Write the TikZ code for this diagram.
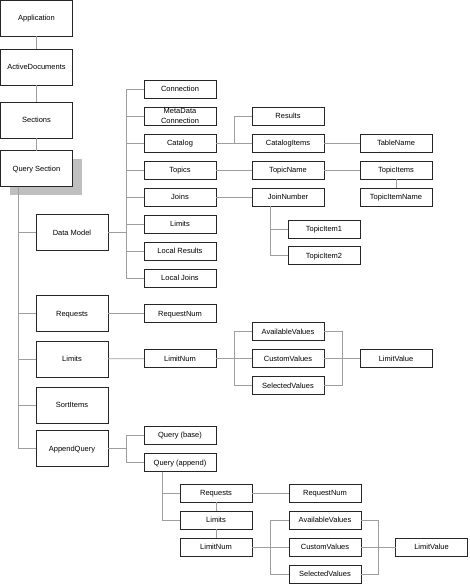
\documentclass[tikz,border=0pt]{standalone}
\usepackage{fontspec}
\setmainfont{Liberation Sans}
\usepackage{tikz}
\usetikzlibrary{calc}

\begin{document}
\begin{tikzpicture}[x=1pt,y=-1pt]
  \tikzset{BigBoxStyle/.style = {
    shape         = rectangle,
    draw          = black!85,
    fill          = white,
    line width    = 0.8pt,
    text          = black,
    font          = \fontsize{7.5}{10}\selectfont,
    text height   = 5.4pt,
    text depth    = 0pt,
    inner sep     = 0pt,
    outer sep     = 0pt,
    minimum width = 72pt,
    minimum height= 36pt
    }
  }
  \tikzset{BoxStyle/.style = {
    BigBoxStyle,
    minimum height= 18pt,
    align         = center
    }
  }
  \tikzset{EdgeStyle/.style = {
    draw          = black!38,
    line width    = 0.7pt
    }
  }
  \useasboundingbox (0,0) rectangle (469,584);

  % left column
  \node[BigBoxStyle](App) at (36.5, 18) {Application};
  \node[BigBoxStyle](ActDocs) at (36.5, 67) {ActiveDocuments};
  \node[BigBoxStyle](Sections) at (36.5, 120) {Sections};
  \fill[black!25] (9.5, 159) rectangle (81.5, 195);
  \node[BigBoxStyle](QuerySec) at (36.5, 168.5) {Query Section};
  \node[BigBoxStyle](DataModel) at (72, 232.5) {Data Model};
  \node[BigBoxStyle](Requests) at (72, 313.5) {Requests};
  \node[BigBoxStyle](Limits) at (72, 359) {Limits};
  \node[BigBoxStyle](SortItems) at (72, 405) {SortItems};
  \node[BigBoxStyle](AppQuery) at (72, 448.5) {AppendQuery};

  % data model
  \node[BoxStyle](Conn) at (180, 89) {Connection};
  \node[BoxStyle, text height=16.7pt, text depth=1.3pt](MetaConn) at (180, 116) {MetaData\\Connection};
  \node[BoxStyle](Catalog) at (180, 143) {Catalog};
  \node[BoxStyle](Topics) at (180, 170) {Topics};
  \node[BoxStyle](Joins) at (180, 197) {Joins};
  \node[BoxStyle](DMLimits) at (180, 224) {Limits};
  \node[BoxStyle](LocResults) at (180, 251) {Local Results};
  \node[BoxStyle](LocJoins) at (180, 278) {Local Joins};
  \node[BoxStyle](Results) at (288, 116) {Results};
  \node[BoxStyle](CatItems) at (288, 143) {CatalogItems};
  \node[BoxStyle](TopicName) at (288, 170) {TopicName};
  \node[BoxStyle](JoinNum) at (288, 197) {JoinNumber};
  \node[BoxStyle](TableName) at (396, 143) {TableName};
  \node[BoxStyle](TopicItems) at (396, 170) {TopicItems};
  \node[BoxStyle](TopicItemName) at (396, 197) {TopicItemName};
  \node[BoxStyle](TopicItemA) at (324, 229) {TopicItem1};
  \node[BoxStyle](TopicItemB) at (324, 255.5) {TopicItem2};

  % requests and limits
  \node[BoxStyle](ReqNum) at (180, 313.5) {RequestNum};
  \node[BoxStyle](LimNum) at (180, 358.5) {LimitNum};
  \node[BoxStyle](AvailVal) at (288, 331.5) {AvailableValues};
  \node[BoxStyle](CustVal) at (288, 358.5) {CustomValues};
  \node[BoxStyle](SelVal) at (288, 385.5) {SelectedValues};
  \node[BoxStyle](LimVal) at (396, 358.5) {LimitValue};

  % append query
  \node[BoxStyle](QBase) at (180, 435) {Query (base)};
  \node[BoxStyle](QAppend) at (180, 462.5) {Query (append)};
  \node[BoxStyle](ReqsB) at (216, 493) {Requests};
  \node[BoxStyle](LimitsB) at (216, 520) {Limits};
  \node[BoxStyle](LimNumB) at (216, 547) {LimitNum};
  \node[BoxStyle](ReqNumB) at (325, 493) {RequestNum};
  \node[BoxStyle](AvailValB) at (325, 520) {AvailableValues};
  \node[BoxStyle](CustValB) at (325, 547) {CustomValues};
  \node[BoxStyle](SelValB) at (325, 574) {SelectedValues};
  \node[BoxStyle](LimValB) at (431.5, 547) {LimitValue};

  % joints
  \coordinate (QSfoot) at ($(QuerySec.south west)+(18,0)$);
  \coordinate (DMjoint) at ($(DataModel.east)+(18,0)$);
  \coordinate (CatJoint) at ($(Catalog.east)!.5!(CatItems.west)$);
  \coordinate (JNfoot) at ($(JoinNum.south west)+(18,0)$);
  \coordinate (LimJoint) at ($(LimNum.east)!.5!(CustVal.west)$);
  \coordinate (ValJoint) at ($(CustVal.east)!.5!(LimVal.west)$);
  \coordinate (AQjoint) at ($(AppQuery.east)+(18,0)$);
  \coordinate (QAfoot) at ($(QAppend.south west)+(18,0)$);
  \coordinate (LimJointB) at ($(LimNumB.east)!.5!(CustValB.west)$);
  \coordinate (ValJointB) at ($(CustValB.east)!.5!(LimValB.west)$);

  % connectors
  \draw[EdgeStyle](App) -- (ActDocs);
  \draw[EdgeStyle](ActDocs) -- (Sections);
  \draw[EdgeStyle](Sections) -- (QuerySec);
  \foreach \n in {DataModel,Requests,Limits,SortItems,AppQuery}
    \draw[EdgeStyle](QSfoot) |- (\n.west);
  \draw[EdgeStyle](DataModel.east) -- (DMjoint);
  \foreach \n in {Conn,MetaConn,Catalog,Topics,Joins,DMLimits,LocResults,LocJoins}
    \draw[EdgeStyle](DMjoint) |- (\n.west);
  \draw[EdgeStyle](Catalog) -- (CatItems);
  \draw[EdgeStyle](CatJoint) |- (Results.west);
  \draw[EdgeStyle](CatItems) -- (TableName);
  \draw[EdgeStyle](Topics) -- (TopicName);
  \draw[EdgeStyle](TopicName) -- (TopicItems);
  \draw[EdgeStyle](TopicItems) -- (TopicItemName);
  \draw[EdgeStyle](Joins) -- (JoinNum);
  \draw[EdgeStyle](JNfoot) |- (TopicItemA.west);
  \draw[EdgeStyle](JNfoot) |- (TopicItemB.west);
  \draw[EdgeStyle](Requests) -- (ReqNum);
  \draw[EdgeStyle](Limits) -- (LimNum);
  \draw[EdgeStyle](LimNum) -- (LimJoint);
  \draw[EdgeStyle](ValJoint) -- (LimVal);
  \foreach \n in {AvailVal,CustVal,SelVal}{
    \draw[EdgeStyle](LimJoint) |- (\n.west);
    \draw[EdgeStyle](ValJoint) |- (\n.east);
  }
  \draw[EdgeStyle](AppQuery.east) -- (AQjoint);
  \draw[EdgeStyle](AQjoint) |- (QBase.west);
  \draw[EdgeStyle](AQjoint) |- (QAppend.west);
  \draw[EdgeStyle](QAfoot) |- (ReqsB.west);
  \draw[EdgeStyle](QAfoot) |- (LimitsB.west);
  \draw[EdgeStyle](ReqsB) -- (LimitsB);
  \draw[EdgeStyle](LimitsB) -- (LimNumB);
  \draw[EdgeStyle](ReqsB) -- (ReqNumB);
  \draw[EdgeStyle](LimNumB) -- (LimJointB);
  \draw[EdgeStyle](ValJointB) -- (LimValB);
  \foreach \n in {AvailValB,CustValB,SelValB}{
    \draw[EdgeStyle](LimJointB) |- (\n.west);
    \draw[EdgeStyle](ValJointB) |- (\n.east);
  }
\end{tikzpicture}
\end{document}
